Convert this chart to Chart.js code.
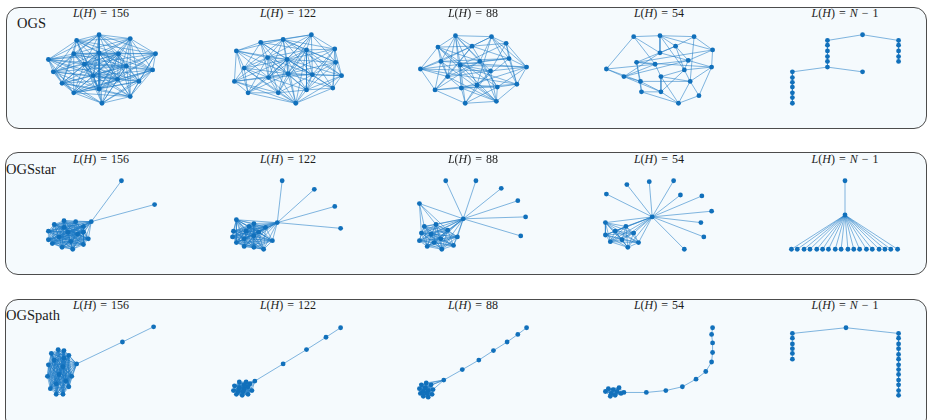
<!DOCTYPE html>
<html>
<head>
<meta charset="utf-8">
<script src="https://cdn.jsdelivr.net/npm/chart.js@4.4.1/dist/chart.umd.min.js"></script>
<style>
  html, body { margin: 0; padding: 0; background: #ffffff; }
  #page { position: relative; width: 927px; height: 420px; overflow: hidden;
          font-family: "Liberation Serif", "DejaVu Serif", serif; color: #1c1c1c; }
  .panel { position: absolute; box-sizing: border-box; border: 1.5px solid #4c4c4c;
           border-radius: 13px; background: #f5fafd; }
  .row-label { position: absolute; font-size: 14.5px; line-height: 1; white-space: nowrap; }
  .title { position: absolute; width: 186px; text-align: center; font-size: 12px;
           line-height: 1; white-space: nowrap; }
  .title i { font-style: italic; }
  .title .op { margin: 0 4px; }
  canvas.graph { position: absolute; }
</style>
</head>
<body>
<div id="page"></div>
<script>
// ---------- labels ----------
const rowLabels = ['OGS', 'OGSstar', 'OGSpath'];
const sizeLabels = ['156', '122', '88', '54', 'N-1'];

// ---------- OGS row: node layouts (x right, y up) and edges ----------
const ogs156X = [-54, -49, -40, -28, 1, 30, 39, 53, 56, 30, -2, -25, -28, -2, 18, -17, 26, -8, 17, -2];
const ogs156Y = [10, -3, -15, -25, -36, -29, -13, -1, 16, 32, 36, 30, 16, 17, 16, 5, 3, -7, -11, -21];
// node pairs that are NOT joined (everything else is)
const ogs156Absent = [[0,5],[0,6],[0,7],[0,8],[0,9],[1,6],[1,7],[1,8],[1,9],[2,7],[2,8],[2,9],[2,10],
  [3,8],[3,9],[3,10],[3,11],[4,9],[4,10],[4,11],[4,12],[5,10],[5,11],[5,12],[6,11],[6,12],[7,11],[7,12],
  [8,12],[4,8],[0,4],[1,5],[6,10],[2,6]];

const ogs122X = [-53, -45, -55, -41, -28, -21, -5, 24, -1, 19, -20, 0, 25, -10, 8, 19, 48, 49, 55, 46];
const ogs122Y = [19, 1, -13, -25, 28, 12, 31, 36, 10, 20, -9, -5, -6, -25, -36, -22, 21, 7, -7, -20];
const ogs122Absent = [[0,16],[0,17],[0,18],[0,19],[1,16],[1,17],[1,18],[1,19],[2,16],[2,17],[2,18],[2,19],
  [3,16],[3,17],[3,18],[3,19],[4,13],[4,14],[4,15],[6,13],[6,14],[6,15],[7,13],[7,14],[7,15],
  [0,7],[0,9],[0,12],[0,15],[1,7],[1,9],[1,12],[1,15],[2,7],[2,9],[2,12],[2,15],[3,7],[3,9],[3,12],[3,15],
  [4,16],[5,16],[10,16],[13,16],[4,17],[5,17],[10,17],[13,17],[4,18],[5,18],[10,18],[13,18],
  [4,19],[5,19],[10,19],[13,19],[0,14],[0,13],[2,6],[3,6],[2,4],[3,4],[6,19],[7,19],[7,18],[14,16],[14,17]];

const ogs88X = [-18, 19, -36, -1, 34, -33, -13, 7, 37, -54, 18, 55, -26, 45, -39, -12, 4, 25, -8, 24];
const ogs88Y = [35, 34, 23, 24, 27, 8, 4, 8, 11, 0, -2, 2, -8, -16, -22, -20, -17, -19, -36, -34];
const ogs88Edges = [[0,2],[0,1],[0,3],[0,5],[0,6],[0,10],[0,15],[0,7],[0,12],
  [1,4],[1,3],[1,8],[1,7],[1,11],[1,16],[1,5],
  [2,9],[2,5],[2,3],[2,6],[2,12],[2,7],[2,16],
  [3,4],[3,8],[3,12],[3,17],[3,14],
  [4,11],[4,8],[4,10],[4,6],[4,13],
  [5,9],[5,12],[5,8],[5,19],[5,14],
  [6,10],[6,15],[6,11],[6,18],[6,13],
  [7,8],[7,12],[7,17],[7,14],[7,19],
  [8,11],[8,13],[8,16],[8,9],
  [9,14],[9,12],[9,13],[9,10],
  [10,11],[10,16],[10,19],[10,12],[10,18],
  [11,13],[11,17],[11,15],
  [12,14],[12,15],[12,19],
  [13,19],[13,17],[13,15],
  [14,18],[14,15],[14,16],
  [15,18],[15,19],[15,17],
  [16,17],[16,18],[16,19],
  [17,19],[17,18],
  [18,19],
  [0,16],[1,13],[2,17],[3,9],[5,11],[6,19]];

const ogs54X = [-26, 1, 36, 17, 1, 55, -23, -4, 30, 26, 54, -54, -36, -19, 2, 32, -18, 2, 20, 41];
const ogs54Y = [34, 35, 34, 24, 17, 20, 7, 5, 9, -1, 2, 0, -8, -13, -8, -13, -24, -24, -36, -28];
const ogs54Edges = [[11,0],[0,1],[1,2],[0,4],[0,7],[1,4],[1,3],[1,5],[1,9],[2,3],[2,5],[2,15],[3,4],
  [3,8],[3,6],[3,9],[4,12],[5,10],[5,8],[5,6],[11,12],[11,13],[11,7],[12,13],[12,7],[12,8],[6,13],
  [6,16],[6,10],[7,14],[13,17],[13,16],[16,17],[17,18],[16,18],[18,19],[19,10],[19,15],[15,9],[15,10],
  [14,17],[14,9],[9,10],[8,10],[17,9],[18,14],[13,15],[7,8],[14,15],[4,8],[12,17],[6,7],[8,9],[18,15]];

const ogsTreeX = [-54, -54, -54, -54, -54, -54, -54, -18, -18, -18, -18, -18, -18, 18, 55, 55, 55, 55, 55, 18];
const ogsTreeY = [-3, -9, -14, -19, -25, -30, -36, 2, 30, 25, 19, 13, 8, 36, 30, 25, 19, 13, 8, -3];
const ogsTreeEdges = [[13,8],[13,14],[8,9],[9,10],[10,11],[11,12],[12,7],[7,0],[7,19],[0,1],[1,2],
  [2,3],[3,4],[4,5],[5,6],[14,15],[15,16],[16,17],[17,18]];

// ---------- OGSstar row ----------
const star156X = [-10, 21, 55, -38, -26, -18, -13, -18, -29, -40, -50, -54, -54, -48, -34, -24, -43, -31, -18, -38];
const star156Y = [-7, 36, 11, -6, -7, -12, -25, -31, -36, -34, -30, -26, -17, -10, -18, -20, -23, -28, -18, -13];
const star156Core = [0, 3, 4, 5, 6, 7, 8, 9, 10, 11, 12, 13, 14, 15, 16, 17, 18, 19];
const star156Extra = [[0,1],[0,2]];

const star122X = [-11, -6, 27, 48, 54, -53, -35, -23, -16, -25, -35, -45, -53, -57, -56, -43, -35, -45, -30, -40];
const star122Y = [-8, 36, 27, 9, -14, -5, -9, -13, -27, -36, -34, -33, -29, -23, -17, -17, -22, -25, -18, -12];
const star122Core = [0, 5, 6, 7, 8, 9, 10, 11, 12, 13, 14, 15, 16, 17, 18, 19];
const star122Extra = [[0,1],[0,2],[0,3],[0,4]];

const star88X = [-10, -28, 3, 29, 46, 54, 49, -55, -50, -38, -26, -16, -20, -32, -47, -55, -53, -43, -33, -40];
const star88Y = [-4, 36, 36, 28, 15, -2, -22, 12, -12, -10, -16, -23, -32, -36, -33, -27, -19, -20, -25, -29];
const star88Core = [0, 8, 9, 10, 11, 12, 13, 14, 15, 16, 17, 18, 19];
const star88Extra = [[0,1],[0,2],[0,3],[0,4],[0,5],[0,6],[0,7],[7,8],[7,9],[7,16],[7,10]];

const star54X = [-7, -54, -33, -10, 15, 22, 44, 54, 43, 46, 26, -55, -55, -50, -45, -38, -34, -32, -26, -21];
const star54Y = [-2, 22, 32, 35, 36, 21, 20, 4, -8, -23, -36, -8, -21, -28, -17, -26, -12, -34, -19, -29];
const star54Core = [0, 11, 12, 13, 14, 15, 16, 17, 18, 19];
const star54Extra = [[0,1],[0,2],[0,3],[0,4],[0,5],[0,6],[0,7],[0,8],[0,9],[0,10]];

const starTreeX = [0, 0, -55, -49, -42, -36, -29, -23, -17, -10, -4, 3, 9, 15, 22, 28, 35, 41, 47, 54];
const starTreeY = [0, 36, -36, -36, -36, -36, -36, -36, -36, -36, -36, -36, -36, -36, -36, -36, -36, -36, -36, -36];
const starTreeEdges = [[0,1],[0,2],[0,3],[0,4],[0,5],[0,6],[0,7],[0,8],[0,9],[0,10],[0,11],[0,12],
  [0,13],[0,14],[0,15],[0,16],[0,17],[0,18],[0,19]];

// ---------- OGSpath row ----------
const path156X = [-25, 22, 54, -51, -44, -38, -33, -30, -33, -39, -46, -52, -55, -54, -48, -39, -43, -36, -46, -38];
const path156Y = [-2, 21, 37, 9, 13, 12, 7, -15, -26, -34, -34, -28, -15, -3, 2, -5, -13, -20, -23, 4];
const path156Core = [0, 3, 4, 5, 6, 7, 8, 9, 10, 11, 12, 13, 14, 15, 16, 17, 18, 19];
const path156Extra = [[0,1],[1,2]];

const path122X = [-34, -5, 19, 39, 54, -55, -56, -53, -47, -41, -37, -39, -43, -50, -50, -45, -41, -46, -51, -45];
const path122Y = [-20, -2, 13, 26, 36, -25, -30, -34, -35, -34, -30, -23, -21, -21, -27, -28, -26, -31, -31, -24];
const path122Core = [5, 6, 7, 8, 9, 10, 11, 12, 13, 14, 15, 16, 17, 18, 19];
const path122Extra = [[0,9],[0,10],[0,11],[0,12],[0,15],[0,16],[0,19],[0,1],[1,2],[2,3],[3,4]];

const path88X = [-30, -11, 6, 21, 35, 46, 55, -55, -53, -48, -43, -41, -42, -46, -51, -54, -49, -46, -51, -47];
const path88Y = [-19, -8, 2, 12, 21, 29, 36, -28, -24, -22, -24, -29, -34, -37, -36, -33, -27, -30, -31, -33];
const path88Core = [7, 8, 9, 10, 11, 12, 13, 14, 15, 16, 17, 18, 19];
const path88Extra = [[0,8],[0,9],[0,10],[0,11],[0,16],[0,1],[1,2],[2,3],[3,4],[4,5],[5,6]];

const path54X = [-36, -13, 7, 24, 38, 48, 54, 55, 55, 54, 55, -55, -52, -49, -47, -45, -43, -41, -50, -39];
const path54Y = [-32, -32, -30, -26, -18, -10, 0, 10, 20, 29, 36, -31, -28, -33, -29, -35, -31, -27, -36, -33];
const path54Core = [11, 12, 13, 14, 15, 16, 17, 18, 19];
const path54Extra = [[0,19],[0,17],[0,16],[0,1],[1,2],[2,3],[3,4],[4,5],[5,6],[6,7],[7,8],[8,9],[9,10]];

const pathTreeX = [-54, -54, -54, -54, -54, -54, 1, 55, 55, 55, 55, 55, 55, 55, 55, 55, 55, 55, 55, 55];
const pathTreeY = [3, 9, 14, 19, 25, 30, 36, 30, 25, 19, 14, 8, 3, -3, -8, -13, -19, -24, -30, -35];
const pathTreeEdges = [[0,1],[1,2],[2,3],[3,4],[4,5],[5,6],[6,7],[7,8],[8,9],[9,10],[10,11],[11,12],
  [12,13],[13,14],[14,15],[15,16],[16,17],[17,18],[18,19]];

// ---------- edge-list helpers ----------
function allPairsExcept(n, absent) {
  const key = (a, b) => (a < b ? a + '-' + b : b + '-' + a);
  const skip = new Set(absent.map(p => key(p[0], p[1])));
  const out = [];
  for (let i = 0; i < n; i++)
    for (let j = i + 1; j < n; j++)
      if (!skip.has(key(i, j))) out.push([i, j]);
  return out;
}
function cliqueOf(members) {
  const out = [];
  for (let a = 0; a < members.length; a++)
    for (let b = a + 1; b < members.length; b++) out.push([members[a], members[b]]);
  return out;
}
const graph = (xs, ys, edges) => ({ xs, ys, edges });

const rows = [
  [
    graph(ogs156X, ogs156Y, allPairsExcept(ogs156X.length, ogs156Absent)),
    graph(ogs122X, ogs122Y, allPairsExcept(ogs122X.length, ogs122Absent)),
    graph(ogs88X, ogs88Y, ogs88Edges),
    graph(ogs54X, ogs54Y, ogs54Edges),
    graph(ogsTreeX, ogsTreeY, ogsTreeEdges)
  ],
  [
    graph(star156X, star156Y, cliqueOf(star156Core).concat(star156Extra)),
    graph(star122X, star122Y, cliqueOf(star122Core).concat(star122Extra)),
    graph(star88X, star88Y, cliqueOf(star88Core).concat(star88Extra)),
    graph(star54X, star54Y, cliqueOf(star54Core).concat(star54Extra)),
    graph(starTreeX, starTreeY, starTreeEdges)
  ],
  [
    graph(path156X, path156Y, cliqueOf(path156Core).concat(path156Extra)),
    graph(path122X, path122Y, cliqueOf(path122Core).concat(path122Extra)),
    graph(path88X, path88Y, cliqueOf(path88Core).concat(path88Extra)),
    graph(path54X, path54Y, cliqueOf(path54Core).concat(path54Extra)),
    graph(pathTreeX, pathTreeY, pathTreeEdges)
  ]
];

// ---------- page layout ----------
const COL_CENTER = [101, 288, 473, 659, 845];
const ROW_CENTER = [69, 215, 362];
const PANEL_TOP = [6.5, 152, 298.5];
const PANEL_HEIGHT = [122, 122.5, 132];
const PANEL_LEFT = [6, 5, 5];
const LABEL_LEFT = [17, 6, 6];
const BOX_W = 186, BOX_H = 100;

const NODE_COLOR = '#1170bb';
const EDGE_COLOR = 'rgba(30,122,196,0.55)';

const page = document.getElementById('page');

function titleHtml(size) {
  const rhs = size === 'N-1'
    ? '<i>N</i><span class="op">\u2212</span>1'
    : size;
  return '<i>L</i>(<i>H</i>)<span class="op">=</span>' + rhs;
}

rows.forEach((row, r) => {
  const panel = document.createElement('div');
  panel.className = 'panel';
  panel.style.left = PANEL_LEFT[r] + 'px';
  panel.style.top = PANEL_TOP[r] + 'px';
  panel.style.width = (926.5 - PANEL_LEFT[r]) + 'px';
  panel.style.height = PANEL_HEIGHT[r] + 'px';
  page.appendChild(panel);

  const label = document.createElement('div');
  label.className = 'row-label';
  label.textContent = rowLabels[r];
  label.style.left = LABEL_LEFT[r] + 'px';
  label.style.top = (PANEL_TOP[r] + 9.7) + 'px';
  page.appendChild(label);

  row.forEach((g, c) => {
    const t = document.createElement('div');
    t.className = 'title';
    t.innerHTML = titleHtml(sizeLabels[c]);
    t.style.left = (COL_CENTER[c] - BOX_W / 2) + 'px';
    t.style.top = (PANEL_TOP[r] + 0.8) + 'px';
    page.appendChild(t);

    const cv = document.createElement('canvas');
    cv.className = 'graph';
    cv.width = BOX_W;
    cv.height = BOX_H;
    cv.style.left = (COL_CENTER[c] - BOX_W / 2) + 'px';
    cv.style.top = (ROW_CENTER[r] - BOX_H / 2) + 'px';
    page.appendChild(cv);

    const nodes = g.xs.map((x, i) => ({ x, y: g.ys[i] }));
    const segments = [];
    g.edges.forEach(([a, b]) => {
      segments.push({ x: g.xs[a], y: g.ys[a] }, { x: g.xs[b], y: g.ys[b] }, { x: null, y: null });
    });

    new Chart(cv, {
      type: 'scatter',
      data: {
        datasets: [
          { label: 'nodes', data: nodes, pointRadius: 2.4, pointHoverRadius: 2.4,
            backgroundColor: NODE_COLOR, borderWidth: 0, showLine: false, order: 0 },
          { label: 'edges', data: segments, showLine: true, spanGaps: false, pointRadius: 0,
            pointHoverRadius: 0, borderColor: EDGE_COLOR, borderWidth: 1,
            segment: { borderColor: () => undefined }, order: 1 }
        ]
      },
      options: {
        responsive: false,
        animation: false,
        events: [],
        layout: { padding: 0 },
        plugins: { legend: { display: false }, tooltip: { enabled: false } },
        scales: {
          x: { type: 'linear', min: -BOX_W / 2, max: BOX_W / 2, display: false },
          y: { type: 'linear', min: -BOX_H / 2, max: BOX_H / 2, display: false }
        }
      }
    });
  });
});
</script>
</body>
</html>
